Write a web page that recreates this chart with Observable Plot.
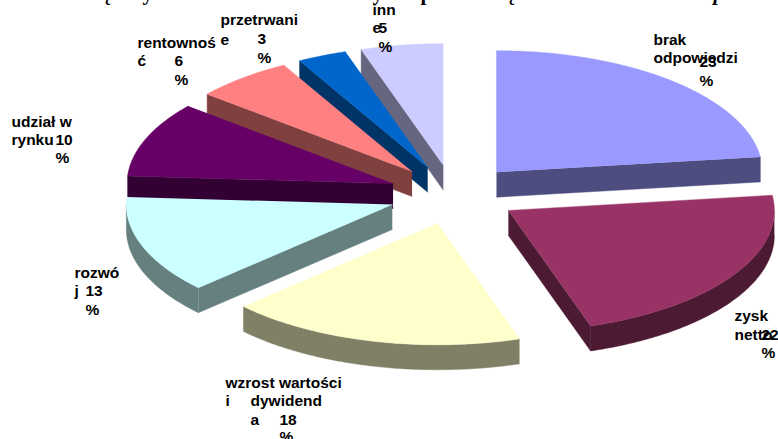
<!DOCTYPE html>
<html lang="pl">
<head>
<meta charset="utf-8">
<title>Cele przedsiębiorstw</title>
<style>
  html, body { margin: 0; padding: 0; background: #fff; }
  svg { display: block; }
</style>
<script src="https://cdn.jsdelivr.net/npm/d3@7"></script>
<script src="https://cdn.jsdelivr.net/npm/@observablehq/plot@0.6"></script>
</head>
<body>
<div id="chart"></div>
<script>
// Survey shares, clockwise from twelve o'clock.
const categories = ["brak odpowiedzi", "zysk netto", "wzrost wartości i dywidenda", "rozwój", "udział w rynku", "rentowność", "przetrwanie", "inne"];
const values = [23, 22, 18, 13, 10, 6, 3, 5];
const topColors = ["#9999ff", "#993366", "#ffffcc", "#ccffff", "#660066", "#ff8080", "#0066cc", "#ccccff"];
const wallColors = ["#4d4d80", "#4d1a33", "#808066", "#668080", "#330033", "#804040", "#003366", "#666680"];

// The way each category name wraps inside its narrow label box.
const nameLines = [
  [["brak", 653, 40], ["odpowiedzi", 653, 58]],
  [["zysk", 734, 316], ["netto", 734, 335]],
  [["wzrost wartości", 225, 383], ["i", 225, 401], ["dywidend", 250, 401], ["a", 250, 420]],
  [["rozwó", 74, 273], ["j", 74, 291]],
  [["udział w", 11, 122], ["rynku", 11, 140]],
  [["rentownoś", 137, 43], ["ć", 137, 61]],
  [["przetrwani", 220, 20], ["e", 220, 40]],
  [["inn", 372, 10], ["e", 372, 28]]
];
const valueSpots = [[699, 62, 81], [761, 335, 353], [279, 420, 437], [85, 291, 310], [55, 140, 158], [174, 61, 80], [257, 39, 58], [378, 28, 47]];

// Only the tails of the heading's letters reach into the page.
const headingTails = [
  {text: "ę", x: 101, style: "normal"},
  {text: "y", x: 142, style: "normal"},
  {text: "y", x: 372, style: "normal"},
  {text: "p", x: 420, style: "normal"},
  {text: "ę", x: 505, style: "normal"},
  {text: "p", x: 713, style: "italic"}
];

// Tilted pie projection.
const center = {x: 453, y: 194};
const radius = 266;
const squash = 122 / 267;
const explode = 65;
const depth = 25;

const total = d3.sum(values);
const project = (apex, angle, r) => ({
  x: apex.x + r * Math.sin(angle),
  y: apex.y - r * squash * Math.cos(angle)
});

let running = 0;
const slices = values.map((value, i) => {
  const start = running / total * 2 * Math.PI;
  running += value;
  const end = running / total * 2 * Math.PI;
  const mid = (start + end) / 2;
  const apex = project(center, mid, explode);
  return {i, start, end, mid, apex};
});

const arcPoints = (apex, a0, a1) => {
  const n = Math.max(2, Math.ceil(Math.abs(a1 - a0) / 0.01));
  return d3.range(n + 1).map((k) => project(apex, a0 + (a1 - a0) * k / n, radius));
};

// A radial wall faces the viewer when the slice lies above its edge.
const radialFacesViewer = (slice, angle) => {
  const dx = Math.sin(angle), dy = -squash * Math.cos(angle);
  if (Math.abs(dx) < 1e-6) return false;
  const nx = dx > 0 ? -dy : dy, ny = Math.abs(dx);
  return nx * Math.sin(slice.mid) + ny * -squash * Math.cos(slice.mid) < 0;
};

const faces = [];
const addFace = (id, color, points) =>
  points.forEach((p) => faces.push({id, color, x: p.x, y: p.y}));
const drop = (p) => ({x: p.x, y: p.y + depth});

// Farther slices are painted first so nearer walls can overlap them.
for (const s of d3.sort(slices, (d) => d.apex.y)) {
  const wall = wallColors[s.i];
  for (const angle of [s.start, s.end]) {
    if (radialFacesViewer(s, angle)) {
      const rim = project(s.apex, angle, radius);
      addFace(`radial-${s.i}-${angle}`, wall, [s.apex, rim, drop(rim), drop(s.apex)]);
    }
  }
  const a0 = Math.max(s.start, Math.PI / 2), a1 = Math.min(s.end, 3 * Math.PI / 2);
  if (a1 > a0) {
    const rim = arcPoints(s.apex, a0, a1);
    addFace(`rim-${s.i}`, wall, [...rim, ...rim.map(drop).reverse()]);
  }
  addFace(`top-${s.i}`, topColors[s.i], [s.apex, ...arcPoints(s.apex, s.start, s.end)]);
}

// Label pieces: wrapped name lines, then the value and its percent sign.
const labelPieces = categories.flatMap((_, i) => {
  const [vx, vy, py] = valueSpots[i];
  return [
    ...nameLines[i].map(([text, x, y]) => ({text, x, y})),
    {text: String(values[i]), x: vx, y: vy},
    {text: "%", x: vx, y: py}
  ];
});

const labelFont = {
  fontFamily: "'Liberation Sans', Arial, sans-serif",
  fontWeight: "bold",
  fontSize: 15.5,
  textAnchor: "start",
  lineAnchor: "middle",
  fill: "#000"
};

const chart = Plot.plot({
  width: 778,
  height: 439,
  margin: 0,
  style: {background: "#fff", overflow: "hidden"},
  x: {domain: [0, 778], axis: null},
  y: {domain: [439, 0], axis: null},
  color: {type: "identity"},
  marks: [
    Plot.line(faces, {x: "x", y: "y", z: "id", fill: "color", stroke: "color", strokeWidth: 0.4}),
    Plot.text(headingTails.filter((d) => d.style === "normal"), {
      x: "x", y: () => -1, text: "text", textAnchor: "start", lineAnchor: "bottom",
      fontFamily: "'Liberation Serif', serif", fontWeight: "bold", fontSize: 21, fill: "#000"
    }),
    Plot.text(headingTails.filter((d) => d.style === "italic"), {
      x: "x", y: () => -1, text: "text", textAnchor: "start", lineAnchor: "bottom",
      fontFamily: "'Liberation Serif', serif", fontWeight: "bold", fontStyle: "italic", fontSize: 21, fill: "#000"
    }),
    Plot.text(labelPieces, {x: "x", y: "y", text: "text", ...labelFont})
  ]
});

document.getElementById("chart").append(chart);
</script>
</body>
</html>
